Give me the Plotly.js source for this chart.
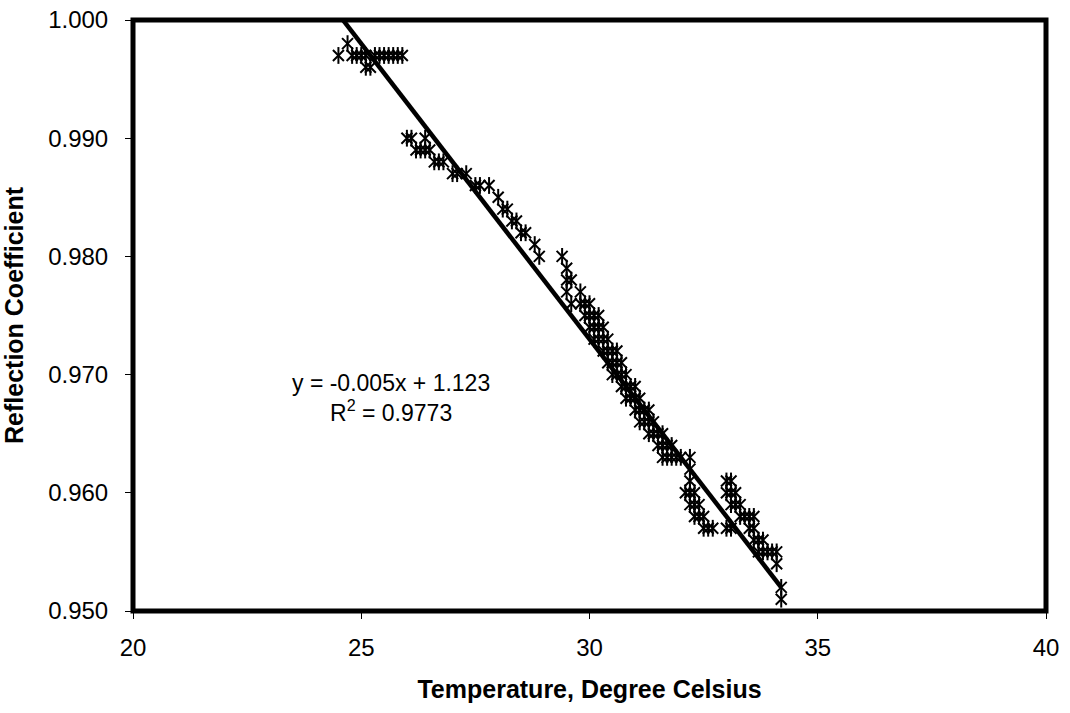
<!DOCTYPE html>
<html>
<head>
<meta charset="utf-8">
<script src="https://cdn.plot.ly/plotly-3.0.1.min.js"></script>
<style>
  html, body { margin: 0; padding: 0; background: #ffffff; }
  #chart { width: 1070px; height: 713px; }
</style>
</head>
<body>
<div id="chart"></div>
<script>
// Temperature (°C)
const temperature = [
  24.5, 24.7,
  24.8, 24.9, 25.0, 25.1, 25.3, 25.4, 25.5, 25.6, 25.7, 25.8, 25.9,
  25.1, 25.2,
  26.0, 26.1, 26.4,
  26.2, 26.3, 26.4, 26.5,
  26.6, 26.7, 26.8,
  27.0, 27.1, 27.3,
  27.5, 27.6, 27.8,
  28.0,
  28.1, 28.2,
  28.3, 28.4,
  28.5, 28.6,
  28.8,
  28.9, 29.4,
  29.5,
  29.5, 29.6,
  29.5, 29.8,
  29.6, 29.8, 29.9, 30.0,
  29.9, 30.0, 30.1, 30.2,
  30.0, 30.1, 30.2, 30.3,
  30.1, 30.2, 30.3, 30.4,
  30.3, 30.4, 30.5, 30.6,
  30.4, 30.5, 30.6, 30.7,
  30.5, 30.6, 30.7, 30.8,
  30.7, 30.8, 30.9, 31.0,
  30.8, 30.9, 31.0, 31.1,
  31.0, 31.1, 31.2, 31.3,
  31.1, 31.2, 31.3, 31.4,
  31.3, 31.4, 31.5, 31.6,
  31.5, 31.6, 31.7, 31.8,
  31.6, 31.7, 31.8, 31.9, 32.0, 32.2,
  32.2,
  32.2,
  32.1, 32.2, 32.3,
  32.2, 32.3, 32.4,
  32.3, 32.4, 32.5,
  32.5, 32.6, 32.7, 33.0, 33.1,
  33.0, 33.1,
  33.0, 33.1, 33.2,
  33.1, 33.2, 33.3,
  33.3, 33.4, 33.5, 33.6,
  33.5, 33.6,
  33.6, 33.7, 33.8,
  33.7, 33.8, 33.9, 34.0, 34.1,
  34.1,
  34.2,
  34.2
];

// Reflection coefficient
const reflection = [
  0.997, 0.998,
  0.997, 0.997, 0.997, 0.997, 0.997, 0.997, 0.997, 0.997, 0.997, 0.997, 0.997,
  0.996, 0.996,
  0.990, 0.990, 0.990,
  0.989, 0.989, 0.989, 0.989,
  0.988, 0.988, 0.988,
  0.987, 0.987, 0.987,
  0.986, 0.986, 0.986,
  0.985,
  0.984, 0.984,
  0.983, 0.983,
  0.982, 0.982,
  0.981,
  0.980, 0.980,
  0.979,
  0.978, 0.978,
  0.977, 0.977,
  0.976, 0.976, 0.976, 0.976,
  0.975, 0.975, 0.975, 0.975,
  0.974, 0.974, 0.974, 0.974,
  0.973, 0.973, 0.973, 0.973,
  0.972, 0.972, 0.972, 0.972,
  0.971, 0.971, 0.971, 0.971,
  0.970, 0.970, 0.970, 0.970,
  0.969, 0.969, 0.969, 0.969,
  0.968, 0.968, 0.968, 0.968,
  0.967, 0.967, 0.967, 0.967,
  0.966, 0.966, 0.966, 0.966,
  0.965, 0.965, 0.965, 0.965,
  0.964, 0.964, 0.964, 0.964,
  0.963, 0.963, 0.963, 0.963, 0.963, 0.963,
  0.962,
  0.961,
  0.960, 0.960, 0.960,
  0.959, 0.959, 0.959,
  0.958, 0.958, 0.958,
  0.957, 0.957, 0.957, 0.957, 0.957,
  0.961, 0.961,
  0.960, 0.960, 0.960,
  0.959, 0.959, 0.959,
  0.958, 0.958, 0.958, 0.958,
  0.957, 0.957,
  0.956, 0.956, 0.956,
  0.955, 0.955, 0.955, 0.955, 0.955,
  0.954,
  0.952,
  0.951
];

// Linear trendline coefficients (from the chart's label)
const trendSlope = -0.005;
const trendIntercept = 1.123;
const trendR2 = 0.9773;

const xTicks = [20, 25, 30, 35, 40];
const yTicks = [0.950, 0.960, 0.970, 0.980, 0.990, 1.000];

const xTitle = 'Temperature, Degree Celsius';
const yTitle = 'Reflection Coefficient';

const xMin = Math.min(...temperature);
const xMax = Math.max(...temperature);
const trendX = [xMin, xMax];
const trendY = trendX.map(v => trendSlope * v + trendIntercept);

const FONT = 'Liberation Sans, Arial, Helvetica, sans-serif';

const markerBase = {
  x: temperature, y: reflection, type: 'scatter', mode: 'markers',
  showlegend: false, hoverinfo: 'x+y'
};

const traces = [
  Object.assign({}, markerBase, {
    marker: { symbol: 'x-thin-open', size: 11, color: '#000', line: { color: '#000', width: 2 } }
  }),
  Object.assign({}, markerBase, {
    marker: { symbol: 'line-ns-open', size: 12, color: '#000', line: { color: '#000', width: 2 } }
  }),
  {
    x: trendX, y: trendY, type: 'scatter', mode: 'lines',
    line: { color: '#000', width: 4.5 }, showlegend: false, hoverinfo: 'skip'
  }
];

const sign = trendIntercept >= 0 ? '+' : '-';
const eqText = 'y = ' + trendSlope.toFixed(3) + 'x ' + sign + ' ' + Math.abs(trendIntercept).toFixed(3) +
  '<br>R<sup>2</sup> = ' + trendR2.toFixed(4);

const layout = {
  width: 1070, height: 713,
  margin: { l: 133, r: 24, t: 20, b: 102, pad: 0 },
  paper_bgcolor: '#ffffff', plot_bgcolor: '#ffffff',
  font: { family: FONT, color: '#000', size: 24 },
  showlegend: false,
  xaxis: {
    range: [20, 40], tickvals: xTicks, ticktext: xTicks.map(String),
    ticks: 'outside', ticklen: 7, tickwidth: 1, tickcolor: '#000',
    showgrid: false, zeroline: false, showline: false,
    tickfont: { family: FONT, size: 24, color: '#000' },
    ticklabelstandoff: 8,
    title: { text: '<b>' + xTitle + '</b>', font: { family: FONT, size: 25, color: '#000' }, standoff: 20 }
  },
  yaxis: {
    range: [0.95, 1.0], tickvals: yTicks, ticktext: yTicks.map(v => v.toFixed(3)),
    ticks: 'outside', ticklen: 7, tickwidth: 1, tickcolor: '#000',
    showgrid: false, zeroline: false, showline: false,
    tickfont: { family: FONT, size: 24, color: '#000' },
    ticklabelstandoff: 12,
    title: { text: '<b>' + yTitle + '</b>', font: { family: FONT, size: 25, color: '#000' }, standoff: 20 }
  },
  shapes: [{
    type: 'rect', xref: 'paper', yref: 'paper', x0: 0, x1: 1, y0: 0, y1: 1,
    line: { color: '#000', width: 5 }, fillcolor: 'rgba(0,0,0,0)', layer: 'above'
  }],
  annotations: [{
    xref: 'x', yref: 'y', x: 25.65, y: 0.968, showarrow: false,
    text: eqText, align: 'center',
    font: { family: FONT, size: 23, color: '#000' }
  }]
};

Plotly.newPlot('chart', traces, layout, { displayModeBar: false, staticPlot: true });
</script>
</body>
</html>
